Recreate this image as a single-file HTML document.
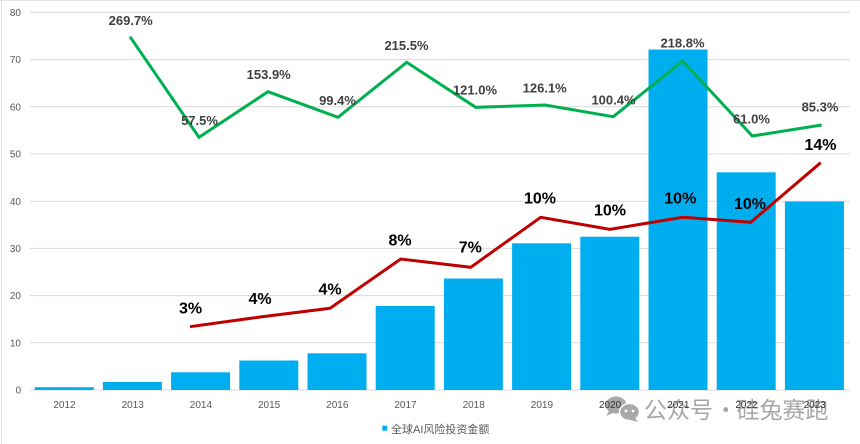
<!DOCTYPE html>
<html>
<head>
<meta charset="utf-8">
<style>
html,body{margin:0;padding:0;background:#fff;}
svg{display:block;}
</style>
</head>
<body>
<svg width="860" height="444" viewBox="0 0 860 444" xmlns="http://www.w3.org/2000/svg" font-family="'Liberation Sans','Noto Sans CJK SC',sans-serif">
  <rect x="0" y="0" width="860" height="444" fill="#ffffff"/>
  <!-- frame edges -->
  <line x1="0" y1="0.5" x2="860" y2="0.5" stroke="#e6e6e6" stroke-width="1"/>
  <line x1="1.5" y1="0" x2="1.5" y2="444" stroke="#e2e2e2" stroke-width="1"/>

  <!-- gridlines -->
  <g stroke="#d9d9d9" stroke-width="1">
    <line x1="30" y1="12.4" x2="850" y2="12.4"/>
    <line x1="30" y1="59.6" x2="850" y2="59.6"/>
    <line x1="30" y1="106.8" x2="850" y2="106.8"/>
    <line x1="30" y1="154" x2="850" y2="154"/>
    <line x1="30" y1="201.2" x2="850" y2="201.2"/>
    <line x1="30" y1="248.4" x2="850" y2="248.4"/>
    <line x1="30" y1="295.6" x2="850" y2="295.6"/>
    <line x1="30" y1="342.8" x2="850" y2="342.8"/>
    <line x1="30" y1="390" x2="850" y2="390"/>
  </g>

  <!-- y labels -->
  <g font-size="10" fill="#595959" text-anchor="end">
    <text x="21" y="16">80</text>
    <text x="21" y="63.2">70</text>
    <text x="21" y="110.4">60</text>
    <text x="21" y="157.6">50</text>
    <text x="21" y="204.8">40</text>
    <text x="21" y="252">30</text>
    <text x="21" y="299.2">20</text>
    <text x="21" y="346.4">10</text>
    <text x="21" y="393.6">0</text>
  </g>

  <!-- bars -->
  <g fill="#00aeef">
    <rect x="34.7" y="387.2" width="59" height="2.8"/>
    <rect x="102.9" y="382" width="59" height="8"/>
    <rect x="171.1" y="372.3" width="59" height="17.7"/>
    <rect x="239.3" y="360.5" width="59" height="29.5"/>
    <rect x="307.5" y="353.3" width="59" height="36.7"/>
    <rect x="375.7" y="306" width="59" height="84"/>
    <rect x="443.9" y="278.5" width="59" height="111.5"/>
    <rect x="512.1" y="243.3" width="59" height="146.7"/>
    <rect x="580.3" y="236.7" width="59" height="153.3"/>
    <rect x="648.5" y="49.5" width="59" height="340.5"/>
    <rect x="716.7" y="172.3" width="59" height="217.7"/>
    <rect x="784.9" y="201.5" width="59" height="188.5"/>
  </g>

  <!-- green line -->
  <polyline fill="none" stroke="#00b050" stroke-width="3" stroke-linejoin="miter"
    points="130,36.7 199,137.3 268,91.7 338,117.3 406.7,62.3 475.7,107.3 545,105 613.3,116.7 682.7,61 752.3,136 821.7,125"/>

  <!-- red line -->
  <polyline fill="none" stroke="#c00000" stroke-width="3" stroke-linejoin="miter"
    points="190,326.7 260,317 330,308.3 400.7,259 470.7,267.3 540.7,217.3 610,229.3 682.7,217.3 750.7,222.3 820.7,162.7"/>

  <!-- green labels -->
  <g font-size="13" font-weight="bold" fill="#404040" text-anchor="middle">
    <text x="130.7" y="25">269.7%</text>
    <text x="199.5" y="125">57.5%</text>
    <text x="268.7" y="79">153.9%</text>
    <text x="337.5" y="105">99.4%</text>
    <text x="406.5" y="50">215.5%</text>
    <text x="475" y="94.3">121.0%</text>
    <text x="544.7" y="92.7">126.1%</text>
    <text x="613.5" y="104.3">100.4%</text>
    <text x="682.5" y="47.7">218.8%</text>
    <text x="751.5" y="123.3">61.0%</text>
    <text x="820" y="111.7">85.3%</text>
  </g>

  <!-- red labels -->
  <g font-size="16" font-weight="bold" fill="#000000" text-anchor="middle">
    <text x="190.5" y="313.3">3%</text>
    <text x="260" y="304">4%</text>
    <text x="330" y="294.3">4%</text>
    <text x="400" y="245.7">8%</text>
    <text x="470.3" y="252.3">7%</text>
    <text x="540" y="203.3">10%</text>
    <text x="610" y="215.7">10%</text>
    <text x="680.3" y="203.3">10%</text>
    <text x="750" y="209">10%</text>
    <text x="820.5" y="150">14%</text>
  </g>

  <!-- watermark -->
  <g>
    <ellipse cx="616" cy="405" rx="10.5" ry="8.5" fill="#a9a9a9"/>
    <path d="M609 411 L606 416 L613 413 Z" fill="#a9a9a9"/>
    <ellipse cx="629.5" cy="412" rx="10" ry="8.5" fill="#a9a9a9" stroke="#ffffff" stroke-width="1.5"/>
    <path d="M635 418 L638 422 L630 420 Z" fill="#a9a9a9"/>
    <circle cx="626" cy="411" r="1.4" fill="#ffffff"/>
    <circle cx="633" cy="411" r="1.4" fill="#ffffff"/>
    <g font-size="23" fill="#a6a6a6" font-family="'Noto Sans CJK SC',sans-serif">
      <text x="644" y="418">公众号</text>
      <text x="725.7" y="418" text-anchor="middle">·</text>
      <text x="736.5" y="418">硅兔赛跑</text>
    </g>
  </g>

  <!-- x labels -->
  <g font-size="10" fill="#595959" text-anchor="middle">
    <text x="64.5" y="408">2012</text>
    <text x="132.7" y="408">2013</text>
    <text x="200.9" y="408">2014</text>
    <text x="269.1" y="408">2015</text>
    <text x="337.3" y="408">2016</text>
    <text x="405.5" y="408">2017</text>
    <text x="473.7" y="408">2018</text>
    <text x="541.9" y="408">2019</text>
    <text x="610.1" y="408" fill="#333">2020</text>
    <text x="678.3" y="408" fill="#333">2021</text>
    <text x="746.5" y="408" fill="#333">2022</text>
    <text x="814.7" y="408" fill="#333">2023</text>
  </g>

  <!-- legend -->
  <rect x="382.3" y="425.7" width="5" height="5" fill="#00aeef"/>
  <text x="391" y="433" font-size="11" fill="#595959">全球AI风险投资金额</text>
</svg>
</body>
</html>
